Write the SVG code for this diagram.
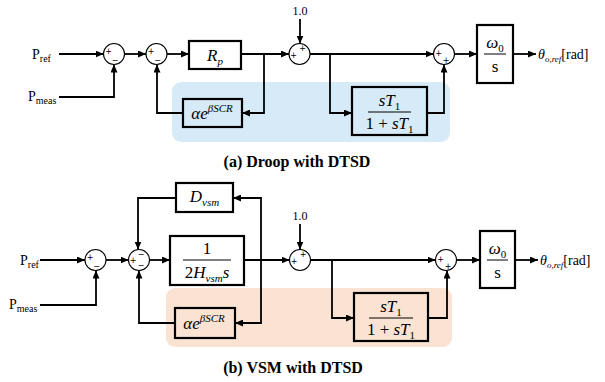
<svg xmlns="http://www.w3.org/2000/svg" width="605" height="382" viewBox="0 0 605 382">
<defs>
<marker id="ah" markerUnits="userSpaceOnUse" markerWidth="8" markerHeight="7" refX="8" refY="3.5" orient="auto"><path d="M0,0 L8,3.5 L0,7 z" fill="#000"/></marker>
<style>
.w{fill:none;stroke:#000;stroke-width:1.8;marker-end:url(#ah)}
.sum{fill:#fff;stroke:#000;stroke-width:1.1}
.box{fill:none;stroke:#000;stroke-width:2.2}
.bar{stroke:#000;stroke-width:1}
.sg{font-family:"DejaVu Sans",sans-serif;font-size:8px;text-anchor:middle;fill:#000}
.lb{font-family:"Liberation Serif",serif;font-size:14px;fill:#000}
.sub{font-size:10px}
.m{font-family:"Liberation Serif",serif;font-style:italic;font-size:17px;fill:#000;text-anchor:middle}
.mu{font-family:"Liberation Serif",serif;font-size:17px;fill:#000;text-anchor:middle}
.up{font-style:normal}
.num{font-family:"Liberation Serif",serif;font-size:12px;fill:#000;text-anchor:middle}
.cap{font-family:"Liberation Serif",serif;font-weight:bold;font-size:16px;fill:#000;text-anchor:middle}
</style>
</defs>
<rect x="172" y="82" width="278" height="60" rx="9" fill="#d6eaf7"/>
<rect x="166" y="288" width="286" height="59" rx="9" fill="#fbe3d4"/>
<g id="connectors">
<path class="w" d="M59,54 H103.5"/>
<path class="w" d="M59,97 H114 V64.5"/>
<path class="w" d="M124.5,54 H146"/>
<path class="w" d="M167,54 H189"/>
<path class="w" d="M241,54 H289"/>
<path class="w" d="M264,54 V113 H242"/>
<path class="w" d="M183,113 H157 V64.5"/>
<path class="w" d="M300,19 V43.5"/>
<path class="w" d="M310,54 H433.5"/>
<path class="w" d="M330,54 V113 H352"/>
<path class="w" d="M427,113 H444 V64.5"/>
<path class="w" d="M454.5,54 H477"/>
<path class="w" d="M513,54 H536"/>
<path class="w" d="M40,260 H85"/>
<path class="w" d="M40,305 H96 V270.5"/>
<path class="w" d="M106,260 H128.5"/>
<path class="w" d="M149.5,260 H170"/>
<path class="w" d="M244,260 H289.5"/>
<path class="w" d="M261,260 V198 H233"/>
<path class="w" d="M261,260 V323 H235"/>
<path class="w" d="M176,198 H138 V249.5"/>
<path class="w" d="M175,323 H139 V270.5"/>
<path class="w" d="M300,224 V249.5"/>
<path class="w" d="M310.5,260 H435.5"/>
<path class="w" d="M332,260 V318 H354"/>
<path class="w" d="M428,318 H447 V270.5"/>
<path class="w" d="M456.5,260 H480"/>
<path class="w" d="M515,260 H538"/>
</g>
<g id="a-pref"><text class="lb" x="32" y="59">P<tspan class="sub" dy="3">ref</tspan></text></g>
<g id="a-pmeas"><text class="lb" x="28" y="101">P<tspan class="sub" dy="3">meas</tspan></text></g>
<g id="a-s1"><circle class="sum" cx="114" cy="54" r="10.5"/><text class="sg" x="108.5" y="54">+</text><text class="sg" x="115" y="63">−</text></g>
<g id="a-s2"><circle class="sum" cx="156.5" cy="54" r="10.5"/><text class="sg" x="151" y="54">+</text><text class="sg" x="157.5" y="63">−</text></g>
<g id="a-rp"><rect class="box" x="189" y="41" width="52" height="28"/><text class="m" x="215" y="61">R<tspan font-size="11" dy="4">p</tspan></text></g>
<g id="a-alpha"><rect class="box" x="183" y="99" width="59" height="28"/><text class="m" x="212" y="119">αe<tspan font-size="11" dy="-7">βSCR</tspan></text></g>
<g id="a-one"><text class="num" x="300" y="15">1.0</text></g>
<g id="a-s3"><circle class="sum" cx="299.5" cy="54" r="10.5"/><text class="sg" x="302.5" y="51">+</text><text class="sg" x="293.5" y="58">+</text></g>
<g id="a-lead"><rect class="box" x="352" y="87" width="75" height="48"/><text class="m" x="389.5" y="106">sT<tspan class="up" font-size="11" dy="4">1</tspan></text><line class="bar" x1="368" y1="112" x2="411" y2="112"/><text class="m" x="389.5" y="129"><tspan class="up">1 + </tspan>sT<tspan class="up" font-size="11" dy="4">1</tspan></text></g>
<g id="a-s4"><circle class="sum" cx="444" cy="54" r="10.5"/><text class="sg" x="438.5" y="56">+</text><text class="sg" x="446" y="63">+</text></g>
<g id="a-int"><rect class="box" x="477" y="25" width="36" height="58"/><text class="m" x="495" y="48">ω<tspan class="up" font-size="11" dy="4">0</tspan></text><line class="bar" x1="484" y1="54" x2="506" y2="54"/><text class="mu" x="495" y="72">s</text></g>
<g id="a-out"><text class="lb" x="538" y="59"><tspan font-style="italic">θ</tspan><tspan font-style="italic" font-size="9" dy="3">o,ref</tspan><tspan dy="-3">[rad]</tspan></text></g>
<g id="a-cap"><text class="cap" x="297" y="167">(a) Droop with DTSD</text></g>

<g id="b-pref"><text class="lb" x="20" y="265">P<tspan class="sub" dy="3">ref</tspan></text></g>
<g id="b-pmeas"><text class="lb" x="9" y="309">P<tspan class="sub" dy="3">meas</tspan></text></g>
<g id="b-s1"><circle class="sum" cx="95.5" cy="260" r="10.5"/><text class="sg" x="90" y="260">+</text><text class="sg" x="96.5" y="269">−</text></g>
<g id="b-s2"><circle class="sum" cx="139" cy="260" r="10.5"/><text class="sg" x="133" y="263">+</text><text class="sg" x="141" y="257">−</text><text class="sg" x="141" y="268">−</text></g>
<g id="b-dvsm"><rect class="box" x="176" y="183" width="57" height="29"/><text class="m" x="204.5" y="202">D<tspan font-size="11" dy="4">vsm</tspan></text></g>
<g id="b-inertia"><rect class="box" x="170" y="236" width="74" height="49"/><text class="mu" x="207" y="254">1</text><line class="bar" x1="183" y1="260" x2="231" y2="260"/><text class="m" x="207" y="278"><tspan class="up">2</tspan>H<tspan font-size="11" dy="4">vsm</tspan><tspan dy="-4">s</tspan></text></g>
<g id="b-alpha"><rect class="box" x="175" y="308" width="60" height="30"/><text class="m" x="204" y="329">αe<tspan font-size="11" dy="-7">βSCR</tspan></text></g>
<g id="b-one"><text class="num" x="300" y="220">1.0</text></g>
<g id="b-s3"><circle class="sum" cx="300" cy="260" r="10.5"/><text class="sg" x="303" y="257">+</text><text class="sg" x="294" y="264">+</text></g>
<g id="b-lead"><rect class="box" x="354" y="293" width="74" height="48"/><text class="m" x="391" y="312">sT<tspan class="up" font-size="11" dy="4">1</tspan></text><line class="bar" x1="369" y1="318" x2="413" y2="318"/><text class="m" x="391" y="335"><tspan class="up">1 + </tspan>sT<tspan class="up" font-size="11" dy="4">1</tspan></text></g>
<g id="b-s4"><circle class="sum" cx="446" cy="260" r="10.5"/><text class="sg" x="440.5" y="262">+</text><text class="sg" x="448" y="269">+</text></g>
<g id="b-int"><rect class="box" x="480" y="231" width="35" height="57"/><text class="m" x="497.5" y="254">ω<tspan class="up" font-size="11" dy="4">0</tspan></text><line class="bar" x1="487" y1="260" x2="508" y2="260"/><text class="mu" x="497.5" y="278">s</text></g>
<g id="b-out"><text class="lb" x="540" y="265"><tspan font-style="italic">θ</tspan><tspan font-style="italic" font-size="9" dy="3">o,ref</tspan><tspan dy="-3">[rad]</tspan></text></g>
<g id="b-cap"><text class="cap" x="293" y="373">(b) VSM with DTSD</text></g>
</svg>
